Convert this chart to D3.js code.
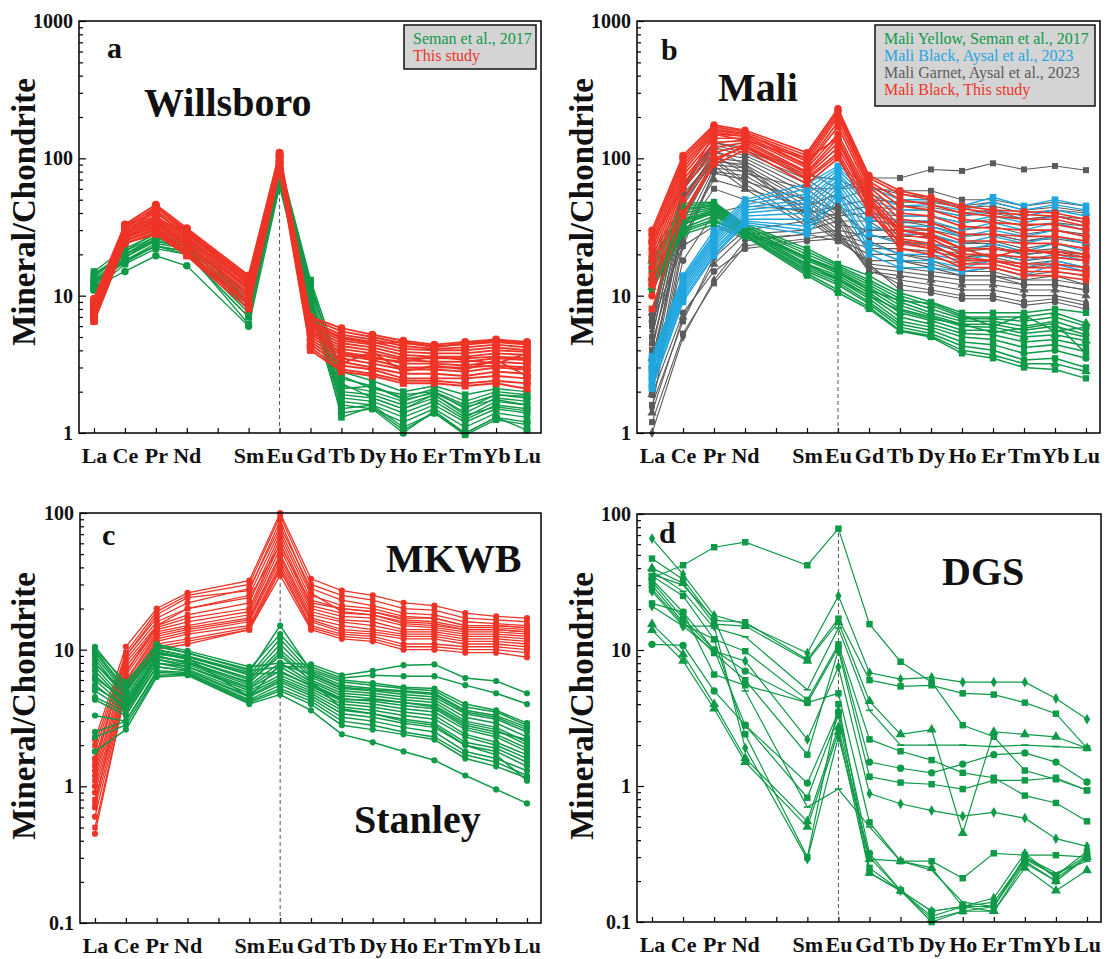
<!DOCTYPE html>
<html><head><meta charset="utf-8">
<script src="https://cdn.jsdelivr.net/npm/d3@7"></script>
<style>
body{margin:0;background:#fff}
text{font-family:"Liberation Serif","Times New Roman",serif}
</style>
</head><body>
<svg id="chart" width="1110" height="959"></svg>
<script>
// ---------- categories / ticks ----------
const elements = ["La","Ce","Pr","Nd","Pm","Sm","Eu","Gd","Tb","Dy","Ho","Er","Tm","Yb","Lu"];
const ree = ["La","Ce","Pr","Nd","Sm","Eu","Gd","Tb","Dy","Ho","Er","Tm","Yb","Lu"];
const ticksTop = [1,10,100,1000];
const ticksBottom = [0.1,1,10,100];

// ---------- panel a : Willsboro ----------
const aGreen = [
 [15,22,28,26,10,95,13,2.8,2.4,2.0,2.2,1.9,2.1,2.0],
 [14,21,27,25,9,90,12,2.5,2.2,1.8,2.1,1.7,2.0,1.9],
 [13,20,26,24,9.5,85,11,2.2,2.0,1.7,2.0,1.5,1.9,1.8],
 [12.5,19,25,23,8.5,80,10,2.0,1.9,1.6,1.9,1.4,1.8,1.7],
 [12,18,24,22,8,75,9.5,1.9,1.8,1.5,1.8,1.3,1.7,1.6],
 [11.5,18,23,21,7.5,70,9,1.8,1.7,1.4,1.7,1.25,1.6,1.5],
 [11,17,22,20,7,65,8.5,1.7,1.6,1.3,1.6,1.2,1.5,1.4],
 [13.5,21,29,27,11,88,12.5,2.3,1.8,1.5,1.9,1.35,1.55,1.45],
 [12,20,27,24,10,78,10.5,1.6,1.5,1.2,1.5,1.1,1.4,1.3],
 [11,19,26,23,9,72,9.5,1.5,1.6,1.1,1.4,1.0,1.3,1.2],
 [14.5,20,25,22,8,82,11.5,2.6,2.1,1.9,2.0,1.6,1.9,1.85],
 [13,18,23,20,7,68,10,1.3,1.55,1.05,1.4,0.97,1.25,1.15],
 [11.5,15,19.5,16.5,6,62,8,1.4,1.5,1.0,1.45,1.0,1.3,1.05],
 [12.5,17.5,23,21,6.2,75,9,2.1,2.2,1.75,1.95,1.55,1.75,1.6]
];
const aRed = [
 [9.5,33,46,31,14,110,7,5.8,5.2,4.7,4.4,4.6,4.8,4.6],
 [9,32,44,30,13.5,108,6.8,5.5,5.0,4.5,4.3,4.4,4.6,4.4],
 [8.8,31,42,29,13,105,6.5,5.2,4.8,4.3,4.1,4.2,4.4,4.2],
 [8.5,30,40,28,12.5,102,6.3,5.0,4.6,4.1,4.0,4.0,4.2,4.0],
 [8.2,30,38,27,12,100,6.0,4.7,4.4,3.9,3.8,3.8,4.0,3.9],
 [8,29,37,26,11.5,98,5.8,4.5,4.2,3.7,3.6,3.6,3.8,3.7],
 [7.8,28,36,25,11,96,5.6,4.3,4.0,3.5,3.5,3.5,3.6,3.5],
 [7.5,28,35,24,10.5,95,5.4,4.1,3.8,3.4,3.3,3.3,3.5,3.4],
 [7.3,27,34,23.5,10,92,5.2,3.9,3.6,3.2,3.2,3.1,3.3,3.2],
 [7.1,26,33,23,10,90,5.0,3.7,3.4,3.0,3.0,3.0,3.1,3.0],
 [7,26,32,22,9.5,88,4.8,3.5,3.2,2.9,2.9,2.8,3.0,2.9],
 [6.8,25,31,21,9,86,4.6,3.3,3.0,2.7,2.7,2.6,2.8,2.7],
 [6.7,25,30,20.5,8.8,85,4.4,3.1,2.9,2.5,2.5,2.5,2.6,2.5],
 [6.5,24,29,20,8.5,82,4.2,2.9,2.7,2.4,2.4,2.3,2.4,2.3],
 [6.5,24,28,19.5,8,80,4.0,2.8,2.6,2.3,2.3,2.2,2.3,2.1],
 [9.2,27,45,29,12,106,6.2,4.9,4.5,4.6,4.2,4.5,4.7,4.5],
 [7.6,32,41,27,11,100,5.5,3.8,3.5,3.3,3.6,3.4,3.2,3.8],
 [8.4,26,35,30,13,94,6.6,3.2,3.9,2.8,3.1,2.9,3.4,2.6]
];

// ---------- panel b : Mali ----------
const bGray = [
 [7,60,130,120,80,60,72,72,83,81,92,83,88,82],
 [6.5,62,125,110,70,50,60,58,58,50,50,45,48,45],
 [7.5,58,120,105,65,45,50,48,48,44,45,40,42,40],
 [5,50,110,100,60,40,45,42,42,38,40,36,38,36],
 [4,45,100,95,55,38,40,38,38,34,36,32,34,32],
 [3,40,95,90,50,35,35,34,34,30,32,28,30,28],
 [2.5,35,90,85,48,33,30,30,30,27,28,25,27,25],
 [2,30,85,80,45,30,27,27,27,24,25,22,24,22],
 [1.9,25,80,75,42,28,24,24,24,21,22,20,21,20],
 [1.5,23,78,70,40,27,22,22,21,19,20,18,19,18],
 [7,60,115,90,38,26,20,20,19,17,18,16,17,16],
 [6.5,55,100,85,36,25,18,18,17,15,16,14,15,14],
 [5,48,95,65,34,40,17,16,15,14,14,13,13,12],
 [4,40,88,60,32,38,16,15,14,13,13,12,12,11],
 [1.4,7,17,28,30,35,15,14,13,12,12,11,11,10],
 [1.0,5,13,25,28,30,15,13,12,11,11,10,10,9],
 [1.2,5.3,12.3,23,26,28,16,12,11,10,10,9,9.5,8.5],
 [1.9,7.5,15,22,25,26,17,11,10.5,9.5,9.5,8.5,9,8],
 [1.6,6.5,19,30,35,45,25,20,18,15,15,13,14,12],
 [6.5,23,32,26,28,25,30,30,28,24,24,21,22,20],
 [3.5,30,70,60,45,55,38,35,32,28,28,25,26,24],
 [5.5,65,130,115,75,70,55,45,44,40,42,36,38,34],
 [4.5,28,60,50,40,45,35,25,22,20,19,17,18,16],
 [2.2,18,40,45,42,38,22,18,16,14,14,12,12,11],
 [6,52,105,78,60,60,62,55,52,45,48,42,44,41],
 [3,35,100,68,50,42,28,25,24,22,23,20,21,19]
];
const bGreen = [
 [20,47,48,33,22,17,14,10.5,9,7.5,7.5,7.5,8,7.5],
 [18,45,47,32,21,16.5,13,10,8.5,7,7,7,7.5,6.3],
 [17,43,46,32,20,16,12.5,9.5,8,6.8,6.8,6.5,7,6],
 [16,42,45,31,19,15.5,12,9,7.5,6.5,6.5,6,6.5,5.5],
 [15,40,44,31,18.5,15,11.5,8.5,7.2,6.2,6.2,5.6,6,5.2],
 [14,38,43,30,18,14.5,11,8,7,6,5.9,5.3,5.6,5],
 [13.5,36,42,30,17,14,10.5,7.5,6.6,5.6,5.6,5,5.2,4.7],
 [13,35,41,29,16.5,13.5,10,7,6.2,5.3,5.2,4.6,4.8,4.3],
 [12.5,33,40,29,16,13,9.5,6.5,5.9,5,4.8,4.2,4.4,3.9],
 [12,31,38,28,15.5,12.5,9,6.2,5.6,4.6,4.4,3.8,4,3.5],
 [12,30,36,28,15,12,8.7,5.9,5.3,4.3,4,3.4,3.5,3],
 [11.5,29,35,27.5,14.5,11,8.3,5.6,5.1,4,3.7,3.2,3.2,2.8],
 [11,28,33,27,14,10.5,8,5.5,5,3.8,3.5,3,2.9,2.5],
 [8,33,42,30,17,13,10,7.8,6.8,6.2,5.4,5.8,6.3,3.8],
 [19,37,39,29,19,15,11,9.2,8.8,7.2,6,7.2,5.5,5.9]
];
const bBlue = [
 [3.6,14,30,50,65,88,62,50,50,45,52,45,50,45],
 [3.4,13.5,28,48,60,85,55,45,46,42,48,42,46,42],
 [3.2,13,27,46,55,82,50,42,42,38,42,38,42,38],
 [3.0,12.5,26,44,50,78,45,38,38,34,38,34,38,34],
 [2.9,12,25,42,47,75,40,35,35,30,34,30,34,30],
 [2.8,11.5,24,40,44,70,36,32,32,27,30,27,30,27],
 [2.6,11,23,38,40,66,32,28,28,24,27,24,27,24],
 [2.5,10.5,22,36,36,62,28,24,24,21,24,21,24,21],
 [2.4,10,21,35,32,58,24,20,20,18,20,18,20,18],
 [2.2,9.5,20,34,30,55,22,18,18,16,18,16,18,16],
 [2.1,9,19.5,33,28,50,20,16,16,15,16,14,17,15]
];
const bRed = [
 [30,105,175,160,110,230,75,58,52,45,42,41,40,36],
 [28,100,170,155,105,220,72,55,50,43,40,39,38,34],
 [26,95,165,150,100,210,68,50,46,40,38,36,36,32],
 [24,90,160,150,95,200,65,45,42,36,34,33,33,30],
 [22,85,155,145,90,185,62,40,38,32,31,30,30,27],
 [20,80,150,145,88,170,58,36,34,28,28,27,27,25],
 [18,75,140,140,85,150,55,32,30,25,25,24,24,22],
 [16,70,130,135,80,140,52,30,28,22,22,21,21,20],
 [14,65,120,130,78,130,50,28,26,20,20,19,19,18],
 [12,60,110,125,75,120,48,26,24,18,18,17,17,16],
 [10,50,100,120,72,110,45,24,22,17,17,15,15,14],
 [8,38,90,115,65,100,42,22,20,16,16,14,14,13],
 [25,62,150,135,100,140,46,30,27,22,19,22,20,19],
 [13,40,95,125,70,105,40,25,23,19,18,16,16,15]
];

// ---------- panel c : MKWB / Stanley ----------
const cRed = [
 [2.2,10.5,20,26,32,100,33,27,25,22,21,18.5,17.5,17],
 [2.0,9.5,19,25,30,95,30,25,23,20,19.5,17,16.5,16],
 [1.8,9,17,22,28,80,28,23,21,18.5,18,16,15.5,15],
 [1.6,8.5,16,20,25,75,25,21,20,17.5,17,15,15,14.5],
 [1.5,8,15,18,22,70,23,20,19,16.5,16,14.5,14.5,14],
 [1.3,7.5,14.5,17,20,65,21,18.5,18,15.5,15,14,14,13.5],
 [1.2,7,14,16,19,60,20,17.5,17,15,14.5,13.5,13.5,13],
 [1.1,6.5,13.5,15,18,55,19,16.5,16,14,14,13,13,12.5],
 [1.0,6,13,14.5,17,50,18,16,15,13.5,13.5,12.5,12.5,12],
 [0.9,5.8,12.5,14,16.5,48,17,15,14,13,13,12,12,11.5],
 [0.8,5.5,12,13.5,16,45,16.5,14,13.5,12.5,12.5,11.5,11.5,11],
 [0.7,5.3,11.5,13,15,42,16,13.5,13,12,12,11,11,10.5],
 [0.6,5.2,11,12,14.5,40,15,13,12.5,11,11,10.5,10.5,10],
 [0.5,5,10.5,11.5,14,38,14.5,12.5,12,10.5,10.5,10,10,9.5],
 [0.45,5,10,11,14,35,14,12,11.5,10,10,9.5,9.5,8.8],
 [1.4,9,18,24,27,88,26,19,18,16,15.5,14,14,13.5],
 [0.75,6.8,15,20,24,58,22,20,19,17,17,15,15,14.5]
];
const cGreen = [
 [10.5,5.5,11,9.8,7.5,8,7.8,6.5,7,7.7,7.8,6.2,5.9,4.8],
 [10,5.8,10.5,9.5,7,7.5,7.5,6.2,6.5,6.4,6.4,5.5,4.8,4.0],
 [9.5,5,10,9,6.8,15,7,5.8,5.5,5.2,5,3.8,3.5,2.8],
 [9,4.8,10,9,6.5,12,6.8,5.5,5.2,5,4.8,3.6,3.3,2.7],
 [8.5,4.5,9.5,8.5,6.2,11,6.5,5.2,5,4.7,4.5,3.4,3.1,2.5],
 [8,4.5,9.5,8.5,6,10,6.3,5,4.8,4.5,4.3,3.2,2.9,2.3],
 [7.5,4.2,9,8,5.8,9,6,4.8,4.6,4.3,4.1,3.0,2.7,2.1],
 [7,4,9,8,5.5,8,5.8,4.6,4.4,4.1,3.9,2.9,2.6,2.0],
 [6.5,4,8.5,7.8,5.3,7.5,5.6,4.4,4.2,3.9,3.7,2.7,2.4,1.9],
 [6,3.8,8.5,7.5,5.2,7,5.4,4.2,4,3.7,3.5,2.6,2.3,1.8],
 [5.5,3.7,8,7.5,5,6.5,5.2,4,3.8,3.5,3.3,2.4,2.1,1.7],
 [5,3.6,8,7.2,4.8,6.2,5,3.8,3.6,3.3,3.1,2.3,2.0,1.6],
 [4.5,3.5,7.5,7,4.6,6,4.8,3.6,3.4,3.1,2.9,2.1,1.9,1.5],
 [4.3,3.3,7.5,7,4.5,5.8,4.6,3.4,3.2,2.9,2.7,2.0,1.8,1.4],
 [3.3,3,7,6.8,4.3,5.5,4.4,3.2,3,2.7,2.5,1.8,1.6,1.3],
 [2.5,3,6.8,6.7,4.2,5.2,4.2,3,2.8,2.5,2.3,1.7,1.5,1.2],
 [2.3,2.8,6.5,6.6,4.1,5,4,2.8,2.6,2.4,2.2,1.6,1.4,1.15],
 [1.8,2.6,6.3,6.5,4,4.7,3.6,2.4,2.1,1.8,1.55,1.2,0.95,0.75],
 [9.8,5.2,10.8,9.4,7.2,13,7.2,6,5.7,5.3,5.2,4,3.6,2.9],
 [6.2,4.3,8.8,8.2,5.7,9.5,5.9,3.7,3.4,3.0,2.8,2.0,1.7,1.1],
 [7.8,4.9,9.7,8.7,4.5,7.8,6.6,5.3,5.1,4.9,4.7,3.5,3.2,2.6],
 [5.3,3.9,9.2,8.8,6.6,6.8,5.5,4.3,4.3,4.1,3.8,2.8,2.5,2.2]
];

// ---------- panel d : DGS ----------
const dGreen = [
 [34,42,57,62,42,78,15.5,8.2,5.8,2.8,2.3,1.3,1.12,0.93],
 [66,36,18,15.5,9.5,25,6.8,6.1,6.3,5.8,5.8,5.8,4.4,3.1],
 [47,33,16.5,16,8.5,17,6.0,5.4,5.5,4.8,4.7,4.1,3.4,1.9],
 [40,31,15.5,15,8.3,16,4.2,2.4,2.6,0.45,2.5,2.4,2.3,1.9],
 [38,27,14.5,12.5,5.1,14.5,3.6,2.0,2.0,2.0,1.95,2.0,1.95,1.9],
 [35,25,12,9.8,4.3,11,2.2,1.8,1.55,1.25,1.15,0.85,0.75,0.55],
 [33,19,10,7,4.1,10.5,1.5,1.35,1.25,1.45,1.7,1.75,1.5,1.07],
 [30,16,9.5,6,1.7,10,1.17,1.06,1.03,0.95,1.1,1.1,1.15,0.93],
 [27,15,9.8,8.3,2.2,7.5,0.88,0.74,0.66,0.6,0.64,0.58,0.41,0.36],
 [22,19,6.6,5.5,4.1,4.8,0.54,0.28,0.28,0.21,0.32,0.31,0.31,0.3],
 [11,10.8,5,2.8,1.05,3.5,0.32,0.17,0.12,0.13,0.13,0.28,0.2,0.3],
 [15.5,9.3,4,1.6,0.55,2.7,0.29,0.28,0.25,0.13,0.12,0.25,0.17,0.24],
 [14,8.3,3.7,1.5,0.5,2.5,0.23,0.17,0.105,0.12,0.12,0.27,0.2,0.3],
 [32,17,10,2.8,0.82,3.3,0.23,0.17,0.11,0.13,0.14,0.29,0.22,0.31],
 [28,15.5,12,2.4,0.3,4.0,0.25,0.17,0.1,0.12,0.13,0.3,0.22,0.33],
 [21,15,15,1.9,0.29,2.3,0.3,0.17,0.12,0.13,0.15,0.32,0.21,0.3],
 [36,30,17,5,0.7,0.95,0.5,0.28,0.24,0.14,0.13,0.3,0.23,0.28]
];

// ---------- legends ----------
const legendA = ["Seman et al., 2017","This study"];
const legendB = ["Mali Yellow, Seman et al., 2017","Mali Black, Aysal et al., 2023","Mali Garnet, Aysal et al., 2023","Mali Black, This study"];

// ---------- styles ----------
const GREEN = "#0f9a48", RED = "#ee3427", BLUE = "#1fa6df", GRAY = "#5b5b5b";
const dash = {draw(ctx, size){ const w = Math.sqrt(size)*1.1; ctx.rect(-w/2,-0.8,w,1.6); }};
const symTypes = {square:d3.symbolSquare, circle:d3.symbolCircle, triangle:d3.symbolTriangle, diamond:d3.symbolDiamond, dash:dash};

const panels = [
 {x0:79,x1:541,y0:21,y1:433,dom:[1,1000],ticks:ticksTop,letter:"a",lx:107,ly:58,
  title:"Willsboro",tx:144,ty:116, ytx:35, yty:212,
  groups:[{data:aGreen,color:GREEN,marks:["square","square","circle","square","square","circle","square"],size:44,lw:1.4},
          {data:aRed,color:RED,marks:["circle","square","circle","circle","square"],size:50,lw:1.9}],
  legend:{x:404,y:25,w:132,h:44,items:legendA,colors:[GREEN,RED]}},
 {x0:637,x1:1100,y0:21,y1:433,dom:[1,1000],ticks:ticksTop,letter:"b",lx:661,ly:60,
  title:"Mali",tx:718,ty:101, ytx:593, yty:212,
  groups:[{data:bGray,color:GRAY,marks:["square","square","triangle","diamond","square","circle"],size:36,lw:1.1},
          {data:bGreen,color:GREEN,marks:["square","triangle","square","square","circle"],size:40,lw:1.5},
          {data:bBlue,color:BLUE,marks:["square"],size:44,lw:1.4},
          {data:bRed,color:RED,marks:["circle","circle","square"],size:44,lw:1.7}],
  legend:{x:875,y:25,w:220,h:81,items:legendB,colors:[GREEN,BLUE,GRAY,RED]}},
 {x0:80,x1:541,y0:513,y1:923,dom:[0.1,100],ticks:ticksBottom,letter:"c",lx:102,ly:545,
  title:"MKWB",tx:386,ty:572, title2:"Stanley",t2x:354,t2y:833, ytx:35, yty:706,
  groups:[{data:cRed,color:RED,marks:["circle","square","circle"],size:30,lw:1.3},
          {data:cGreen,color:GREEN,marks:["circle"],size:30,lw:1.5}]},
 {x0:637,x1:1101,y0:514,y1:922,dom:[0.1,100],ticks:ticksBottom,letter:"d",lx:659,ly:543,
  title:"DGS",tx:942,ty:585, ytx:593, yty:706,
  groups:[{data:dGreen,color:GREEN,marks:["square","diamond","square","triangle","dash","square","circle","square","diamond","square","circle","triangle","triangle","square","square","diamond","dash"],size:42,lw:1.2}]}
];

const svg = d3.select("#chart");

panels.forEach(p => {
  const g = svg.append("g");
  const x = d3.scalePoint().domain(elements).range([p.x0+15, p.x1-14]);
  const y = d3.scaleLog().domain(p.dom).range([p.y1, p.y0]);

  const minors = [];
  for (let d = p.dom[0]; d < p.dom[1]*0.999; d *= 10) {
    for (let k = 2; k <= 9; k++) minors.push(d*k);
  }
  const minorAxis = d3.axisLeft(y).tickValues(minors).tickSizeInner(-4).tickSizeOuter(0).tickFormat("");
  const gm = g.append("g").attr("transform",`translate(${p.x0},0)`).call(minorAxis);
  gm.select(".domain").remove();
  gm.selectAll("line").attr("stroke","#000").attr("stroke-width",1.2);

  const majorAxis = d3.axisLeft(y).tickValues(p.ticks).tickSizeInner(-7).tickSizeOuter(0).tickPadding(6).tickFormat(d3.format("~g"));
  const gM = g.append("g").attr("transform",`translate(${p.x0},0)`).call(majorAxis);
  gM.select(".domain").remove();
  gM.selectAll("line").attr("stroke","#000").attr("stroke-width",1.2);
  gM.selectAll("text").attr("font-family","Liberation Serif, serif").attr("font-weight","bold").attr("font-size",20).attr("fill","#111");

  const xAxis = d3.axisBottom(x).tickSizeInner(-5).tickSizeOuter(0).tickFormat(d => d==="Pm" ? "" : d);
  const gx = g.append("g").attr("transform",`translate(0,${p.y1})`).call(xAxis);
  gx.select(".domain").remove();
  gx.selectAll("line").attr("stroke","#000").attr("stroke-width",1.2);
  gx.selectAll("text").attr("y",30).attr("dy",0).attr("font-family","Liberation Serif, serif")
    .attr("font-weight","bold").attr("font-size",22).attr("fill","#111");

  const euMax = d3.max(p.groups.flatMap(gr => gr.data.map(s => s[ree.indexOf("Eu")])));
  g.append("line").attr("x1",x("Eu")).attr("x2",x("Eu")).attr("y1",p.y1).attr("y2",y(euMax))
    .attr("stroke","#555").attr("stroke-width",1).attr("stroke-dasharray","4,3");

  const line = d3.line().x(d => x(d.el)).y(d => y(d.v));
  p.groups.forEach(gr => {
    gr.data.forEach((s, i) => {
      const pts = s.map((v, j) => ({el: ree[j], v}));
      const sg = g.append("g");
      sg.append("path").attr("d", line(pts)).attr("fill","none").attr("stroke",gr.color).attr("stroke-width",gr.lw||1.1);
      const m = gr.marks[i % gr.marks.length];
      const sym = d3.symbol().type(symTypes[m]).size(m==="diamond"? gr.size*0.8 : gr.size);
      sg.selectAll("path.pt").data(pts).join("path").attr("class","pt")
        .attr("transform", d => `translate(${x(d.el)},${y(d.v)})`)
        .attr("d", sym).attr("fill", gr.color);
    });
  });

  g.append("rect").attr("x",p.x0).attr("y",p.y0).attr("width",p.x1-p.x0).attr("height",p.y1-p.y0)
    .attr("fill","none").attr("stroke","#000").attr("stroke-width",1.5);

  g.append("text").attr("transform",`translate(${p.ytx},${p.yty}) rotate(-90)`).attr("text-anchor","middle")
    .attr("font-weight","bold").attr("font-size",33).attr("fill","#111").text("Mineral/Chondrite");

  g.append("text").attr("x",p.lx).attr("y",p.ly).attr("font-weight","bold").attr("font-size",30).attr("fill","#111").text(p.letter);
  g.append("text").attr("x",p.tx).attr("y",p.ty).attr("font-weight","bold").attr("font-size",40).attr("fill","#111").text(p.title);
  if (p.title2) g.append("text").attr("x",p.t2x).attr("y",p.t2y).attr("font-weight","bold").attr("font-size",40).attr("fill","#111").text(p.title2);

  if (p.legend) {
    const L = p.legend;
    g.append("rect").attr("x",L.x).attr("y",L.y).attr("width",L.w).attr("height",L.h)
      .attr("fill","#d4d4d4").attr("stroke","#111").attr("stroke-width",1.5);
    L.items.forEach((t, i) => {
      g.append("text").attr("x",L.x+9).attr("y",L.y+18.5+i*17.2).attr("font-size",16)
        .attr("font-family","Liberation Serif, serif").attr("fill",L.colors[i]).text(t);
    });
  }
});
</script>
</body></html>
